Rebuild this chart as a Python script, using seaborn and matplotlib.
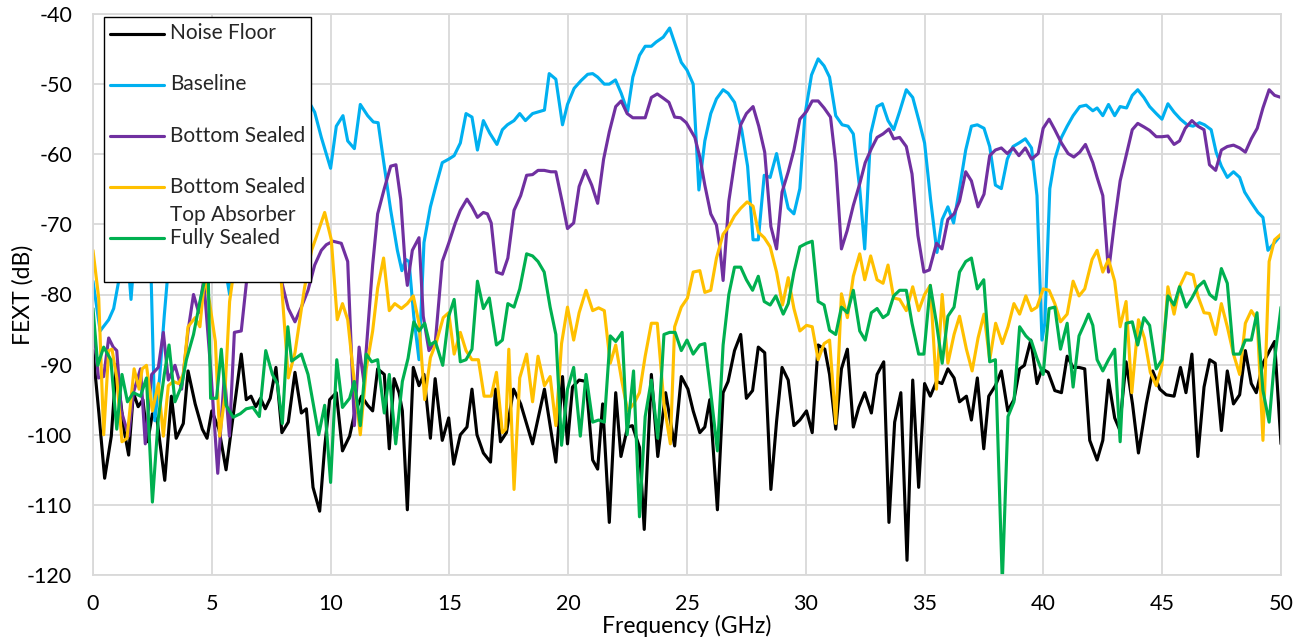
import numpy as np
import pandas as pd
import matplotlib
matplotlib.use("Agg")
import matplotlib.pyplot as plt
import seaborn as sns

# ---------------- data (frequency GHz, FEXT dB) ----------------
noise_floor = [
    (0.0, -88), (0.25, -97), (0.49, -106.2), (0.77, -100.2), (0.98, -90.0), (1.3, -99.2), (1.5, -102.9),
    (1.7, -94), (1.9, -96), (2.1, -95), (2.3, -101), (2.5, -97), (2.7, -98), (3.02, -106.5), (3.3, -94.5),
    (3.5, -100.5), (3.8, -98.4), (4.0, -90.9), (4.3, -95.6), (4.6, -99.2), (4.8, -100.5), (5.0, -96.6),
    (5.3, -99.2), (5.6, -105), (6.24, -88.5), (6.45, -95), (6.65, -94.5), (6.85, -96), (7.05, -94.8),
    (7.25, -96.3), (7.46, -94.8), (7.7, -90.4), (7.95, -99.7), (8.22, -98.2), (8.5, -91.1), (8.77, -96.9),
    (8.98, -96.3), (9.26, -107.5), (9.54, -110.9), (9.75, -101.8), (9.96, -95.0), (10.24, -94), (10.5, -102.3),
    (10.8, -100.2), (11.0, -97.1), (11.3, -94.5), (11.56, -95.8), (11.77, -96.6), (11.98, -90.6), (12.26, -91.4),
    (12.47, -102), (12.67, -92), (12.88, -94), (13.02, -96.6), (13.23, -110.7), (13.48, -90.4), (13.72, -93),
    (13.93, -91.4), (14.2, -100.5), (14.4, -92), (14.7, -100.8), (14.97, -97.6), (15.18, -104.2), (15.46, -100),
    (15.74, -98.9), (15.95, -93.5), (16.16, -100), (16.43, -102.6), (16.73, -103.9), (16.94, -93.5), (17.15, -101),
    (17.4, -99.7), (17.7, -93.5), (18.0, -95.6), (18.5, -101.3), (19.0, -93.5), (19.48, -103.9), (19.76, -91.7),
    (19.97, -101.3), (20.18, -93.2), (20.46, -92.2), (20.75, -92.4), (21.03, -103.6), (21.24, -104.9),
    (21.45, -95.6), (21.73, -112.5), (22.0, -94), (22.22, -103.1), (22.5, -98.9), (22.7, -98.7), (23.0, -101.8),
    (23.2, -113.5), (23.5, -91.4), (23.77, -103.1), (24.1, -94), (24.48, -101.6), (24.76, -91.7), (25.04, -93.5),
    (25.26, -96.6), (25.54, -99.7), (25.75, -98.9), (25.96, -95), (26.28, -110.7), (26.52, -94), (26.73, -92.4),
    (27.0, -88), (27.26, -85.7), (27.5, -94.8), (27.76, -93.7), (28.0, -87.5), (28.27, -88.3), (28.53, -107.8),
    (28.77, -98.1), (29.0, -90.4), (29.26, -92.2), (29.5, -98.7), (29.75, -97.9), (30.03, -96.6), (30.27, -99.7),
    (30.52, -87.2), (30.8, -87.8), (31.0, -91.4), (31.26, -99.2), (31.5, -90.6), (31.75, -87.8), (32.0, -98.9),
    (32.23, -96.1), (32.48, -94), (32.76, -96.9), (33.0, -91.4), (33.28, -89.6), (33.5, -112.5), (33.74, -98.2),
    (34.0, -94), (34.26, -117.9), (34.5, -92.2), (34.75, -107.5), (35.0, -92.7), (35.24, -94.5), (35.5, -92.4),
    (35.73, -92.7), (35.98, -90.6), (36.24, -91.9), (36.47, -95.3), (36.76, -94.5), (36.97, -97.9), (37.22, -91.9),
    (37.49, -102), (37.7, -94.5), (37.98, -93), (38.23, -90.9), (38.5, -96.6), (38.76, -95), (39.0, -90.6),
    (39.2, -90.1), (39.47, -86.5), (39.73, -92.7), (39.94, -90.6), (40.2, -91.1), (40.48, -93.7), (40.76, -94),
    (41.0, -88.8), (41.25, -90.4), (41.5, -90.4), (41.74, -90.6), (41.95, -100.8), (42.26, -103.6), (42.5, -100.8),
    (42.74, -92.2), (43.0, -97.6), (43.2, -99.2), (43.48, -89.6), (43.75, -95.6), (44.0, -102.6), (44.33, -95.6),
    (44.6, -90.9), (44.9, -93.5), (45.17, -94.3), (45.5, -94.5), (45.77, -90.4), (46.0, -94), (46.25, -88.5),
    (46.5, -103.1), (46.76, -93.2), (47.0, -89.3), (47.23, -89.8), (47.49, -99.4), (47.74, -90.9), (48.0, -95.6),
    (48.26, -94.3), (48.5, -88), (48.75, -92.7), (48.96, -94), (49.24, -89.8), (49.52, -88), (49.73, -86.7),
    (50.0, -101.3),
]

baseline = [
    (0.0, -78.1), (0.3, -85.2), (0.66, -83.6), (0.87, -82), (1.08, -78.1), (1.22, -75.8), (1.4, -72), (1.6, -80.7),
    (1.75, -74), (2.0, -66), (2.3, -72), (2.45, -78), (2.6, -98), (2.8, -92), (3.0, -83), (3.2, -75), (3.6, -68),
    (4.2, -66), (4.8, -70), (5.3, -72), (5.55, -76), (5.75, -80), (6.0, -73), (6.5, -64), (7.0, -60), (7.5, -62),
    (8.0, -57), (8.5, -55), (9.0, -52), (9.33, -54), (9.61, -57.6), (10.0, -62), (10.24, -56), (10.52, -54.5),
    (10.72, -58.1), (11.0, -59.2), (11.25, -52.9), (11.56, -54.5), (11.8, -55.4), (12.0, -55.5), (12.26, -61.7),
    (12.53, -68), (12.81, -73.7), (13.0, -76.6), (13.16, -75), (13.3, -75.3), (13.5, -83.1), (13.72, -89.3),
    (13.93, -72.6), (14.2, -67.5), (14.44, -64.4), (14.7, -61.2), (14.97, -60.7), (15.2, -60.2), (15.46, -58.4),
    (15.7, -54.2), (15.95, -54.7), (16.18, -59.4), (16.43, -55.2), (16.7, -57), (17.0, -58.6), (17.23, -56.5),
    (17.44, -55.8), (17.72, -55.2), (17.96, -54.2), (18.2, -55.2), (18.5, -54.2), (19.0, -53.7), (19.2, -48.5),
    (19.48, -49.3), (19.76, -55.8), (19.97, -52.9), (20.25, -50.6), (20.54, -49.5), (20.82, -48.6), (21.03, -48.5),
    (21.24, -49), (21.52, -50), (21.73, -50), (21.99, -49.4), (22.23, -51.3), (22.5, -53.9), (22.72, -49),
    (23.0, -45.9), (23.24, -44.6), (23.5, -44.6), (23.7, -44), (24.0, -43.3), (24.27, -42), (24.48, -44.1),
    (24.76, -46.9), (25.0, -48), (25.26, -50), (25.5, -65.1), (25.75, -58.1), (26.0, -54.2), (26.24, -52.1),
    (26.52, -50.8), (26.73, -51.3), (27.0, -52.6), (27.3, -56.5), (27.55, -61.7), (27.78, -72.2), (28.0, -72.2),
    (28.25, -63), (28.5, -63.3), (28.77, -59.9), (29.0, -63.8), (29.26, -67.7), (29.5, -68.5), (29.75, -64.9),
    (29.96, -54.5), (30.24, -48.7), (30.52, -46.4), (30.77, -47.4), (31.0, -49), (31.26, -54.5), (31.53, -55.8),
    (31.78, -56), (32.0, -57.1), (32.27, -64.9), (32.48, -73.5), (32.73, -57.1), (33.0, -53.2), (33.22, -52.8),
    (33.46, -55.2), (33.7, -56.5), (33.95, -53.9), (34.23, -50.8), (34.5, -51.9), (34.76, -55.2), (35.0, -58.4),
    (35.25, -66.4), (35.52, -74), (35.74, -69.3), (35.98, -67.5), (36.22, -69.8), (36.47, -64.9), (36.73, -59.4),
    (36.97, -56), (37.22, -55.8), (37.5, -56.3), (37.74, -58.9), (37.98, -64.4), (38.23, -64.9), (38.48, -60.7),
    (38.72, -58.9), (38.97, -58.4), (39.24, -57.8), (39.5, -59.1), (39.73, -65.9), (39.94, -86.5), (40.06, -84.1),
    (40.27, -64.9), (40.48, -60.7), (40.76, -57.6), (41.0, -56), (41.25, -54.5), (41.53, -53.2), (41.8, -53),
    (42.08, -53.8), (42.26, -53.4), (42.5, -54.5), (42.74, -52.9), (43.0, -54.5), (43.23, -53.2), (43.5, -53.4),
    (43.74, -51.6), (43.97, -50.8), (44.23, -51.9), (44.47, -53.2), (44.75, -54.2), (44.99, -55), (45.24, -52.8),
    (45.5, -54), (45.77, -55), (46.05, -55.8), (46.3, -56), (46.57, -55.5), (46.78, -55.8), (47.06, -56.5),
    (47.27, -59.7), (47.49, -61.7), (47.74, -63.3), (48.0, -62.5), (48.26, -63.3), (48.47, -65.4), (48.75, -66.9),
    (49.03, -68.3), (49.24, -69), (49.45, -73.7), (49.73, -72.6), (50.0, -71.5),
]

bottom_sealed = [
    (0.0, -83.6), (0.23, -91.9), (0.45, -91.7), (0.66, -86.2), (0.85, -87.5), (1.0, -88), (1.19, -96.6),
    (1.5, -100.2), (1.7, -94), (2.0, -90.6), (2.2, -101.3), (2.47, -91.4), (2.75, -90.4), (2.96, -85.4),
    (3.17, -92.2), (3.45, -90.1), (3.73, -93.5), (4.0, -85.2), (4.23, -80), (4.45, -82.6), (4.66, -77.9),
    (4.97, -91.4), (5.25, -105.5), (5.53, -91.4), (5.74, -100.2), (5.95, -85.4), (6.24, -85.2), (6.52, -76.3),
    (7.0, -68), (7.5, -72), (8.0, -79), (8.22, -82), (8.5, -83.9), (8.77, -81.8), (9.05, -79.4), (9.33, -75.8),
    (9.61, -73.7), (9.82, -72.9), (10.1, -72.4), (10.45, -72.7), (10.72, -75.3), (11.0, -98.7), (11.2, -87.5),
    (11.4, -92.4), (11.56, -85.2), (11.77, -75.8), (11.98, -68.5), (12.26, -64.9), (12.53, -61.7), (12.75, -61.5),
    (12.95, -66.4), (13.16, -76.8), (13.23, -78.7), (13.44, -73.7), (13.72, -71.9), (13.9, -83.1), (14.14, -88),
    (14.41, -86.7), (14.7, -75.3), (14.97, -72.7), (15.25, -69.8), (15.46, -68), (15.74, -66.4), (15.95, -67.5),
    (16.18, -69), (16.43, -68.3), (16.6, -68.5), (16.76, -69.8), (16.98, -76.8), (17.23, -77.1), (17.46, -74.8),
    (17.72, -68), (18.0, -65.9), (18.25, -63), (18.5, -62.9), (18.73, -62.3), (18.99, -62.3), (19.27, -62.5),
    (19.48, -62.5), (19.76, -67), (19.97, -70.6), (20.23, -69.8), (20.46, -64.6), (20.72, -62.3), (20.99, -64.4),
    (21.24, -67), (21.49, -60.7), (21.73, -56.8), (22.0, -53.2), (22.23, -52.4), (22.48, -54.2), (22.72, -54.8),
    (23.0, -54.8), (23.24, -54.8), (23.5, -51.9), (23.75, -51.4), (24.0, -52), (24.24, -52.6), (24.48, -54.7),
    (24.73, -54.8), (24.97, -55.5), (25.33, -57.6), (25.54, -60.4), (25.75, -64.4), (26.0, -68.5), (26.24, -70.1),
    (26.38, -73.2), (26.52, -78), (26.76, -66.7), (27.0, -61.2), (27.26, -55.8), (27.5, -54.2), (27.78, -53.2),
    (28.02, -56), (28.27, -59.7), (28.53, -70.3), (28.77, -73.5), (29.0, -65.4), (29.26, -62.5), (29.5, -59.4),
    (29.75, -55), (30.03, -53.9), (30.27, -52.4), (30.52, -52.4), (30.77, -53.4), (31.04, -54.7), (31.26, -61.2),
    (31.5, -73.5), (31.74, -70.9), (32.0, -67.3), (32.27, -64.2), (32.5, -61.2), (32.76, -59.2), (33.0, -57.6),
    (33.25, -57.1), (33.5, -56.4), (33.7, -57.8), (33.95, -57.6), (34.23, -58.9), (34.47, -62.8), (34.72, -71.6),
    (34.97, -76.8), (35.2, -76.5), (35.5, -72.7), (35.73, -73.5), (35.98, -69.3), (36.24, -68.5), (36.47, -66.7),
    (36.73, -62.5), (36.97, -63.8), (37.25, -67.5), (37.5, -65.7), (37.74, -60.2), (37.98, -59.4), (38.23, -59.1),
    (38.48, -59.9), (38.72, -59.1), (38.97, -60.2), (39.24, -59.1), (39.5, -60.7), (39.78, -59.9), (39.99, -56.3),
    (40.24, -55), (40.48, -56.5), (40.76, -58.4), (41.04, -59.9), (41.28, -60.4), (41.53, -59.7), (41.77, -58.6),
    (42.08, -61.2), (42.26, -63.3), (42.5, -65.9), (42.74, -76.8), (43.0, -69.5), (43.23, -63.8), (43.48, -60.2),
    (43.74, -56.5), (43.97, -55.6), (44.23, -56.1), (44.47, -56.6), (44.75, -57.5), (44.99, -57.5), (45.24, -57.4),
    (45.5, -58.6), (45.73, -58.1), (45.97, -56.3), (46.25, -55.2), (46.5, -56), (46.76, -56.5), (46.99, -61.5),
    (47.25, -62.3), (47.49, -59.4), (47.74, -58.9), (48.0, -58.7), (48.26, -59.1), (48.5, -59.7), (48.75, -57.8),
    (49.0, -56.3), (49.24, -53.4), (49.5, -50.8), (49.73, -51.6), (50.0, -51.9),
]

bottom_sealed_top_absorber = [
    (0.0, -73.7), (0.24, -80.5), (0.45, -100), (0.66, -88), (0.8, -87.8), (1.0, -91.9), (1.22, -101), (1.43, -100.5),
    (1.73, -90.6), (1.94, -93.5), (2.07, -90.6), (2.25, -90.1), (2.5, -96.6), (2.75, -92.7), (2.96, -100.2),
    (3.17, -93), (3.38, -92.4), (3.6, -92.7), (3.8, -91.4), (4.0, -84.6), (4.3, -83.3), (4.5, -84.6), (4.7, -77.4),
    (4.9, -81), (5.15, -86.7), (5.33, -100.2), (5.54, -94.8), (5.75, -81), (5.96, -75.8), (6.5, -68), (7.0, -66),
    (7.5, -70), (7.9, -77), (8.22, -91.9), (8.5, -88.3), (8.9, -79.1), (9.2, -73.7), (9.47, -71.1), (9.75, -68.3),
    (10.03, -72.2), (10.28, -83.6), (10.5, -81.3), (10.72, -83.6), (10.98, -91.9), (11.25, -100), (11.5, -90.6),
    (11.77, -85.2), (11.98, -79.1), (12.23, -74.8), (12.47, -82.3), (12.7, -81.3), (12.98, -82), (13.23, -81.3),
    (13.48, -80.2), (13.72, -84.1), (13.96, -95), (14.2, -89), (14.46, -86.7), (14.74, -83.3), (14.97, -82.6),
    (15.2, -88.5), (15.46, -85.4), (15.7, -88), (15.95, -89.3), (16.22, -89.3), (16.46, -94.5), (16.76, -94.5),
    (16.98, -91.1), (17.23, -99.7), (17.37, -99.2), (17.5, -87.8), (17.72, -107.8), (17.96, -91.9), (18.25, -88.5),
    (18.5, -95.3), (18.73, -88.8), (19.0, -93), (19.24, -91.7), (19.48, -98.7), (19.72, -87), (19.97, -81.8),
    (20.23, -86.5), (20.46, -82.6), (20.75, -79.4), (21.03, -82.3), (21.28, -81.9), (21.52, -82.3), (21.77, -89.8),
    (22.0, -87.2), (22.25, -92.2), (22.5, -96.6), (22.76, -95.6), (23.0, -94), (23.24, -88.8), (23.5, -84.1),
    (23.75, -84.1), (24.03, -95.6), (24.3, -101.3), (24.48, -84.6), (24.76, -81.8), (25.02, -80.5), (25.26, -76.8),
    (25.54, -76.6), (25.75, -79.7), (26.0, -79.4), (26.24, -74.8), (26.52, -71.4), (26.76, -70.3), (27.0, -68.8),
    (27.26, -67.7), (27.53, -66.8), (27.78, -67.4), (28.0, -71.1), (28.25, -71.9), (28.5, -73.2), (28.77, -76.8),
    (29.02, -81.5), (29.26, -77.6), (29.5, -82), (29.75, -85.2), (30.03, -84.4), (30.27, -84.6), (30.52, -89.3),
    (30.77, -87), (31.0, -86.5), (31.26, -98.4), (31.5, -79.9), (31.75, -83.3), (32.0, -77.4), (32.27, -74.2),
    (32.48, -77.9), (32.73, -74.5), (33.0, -77.9), (33.25, -78.4), (33.46, -75.8), (33.7, -80.5), (33.95, -80.7),
    (34.23, -82.3), (34.5, -78.9), (34.75, -82.3), (35.0, -80), (35.24, -78.7), (35.5, -93.5), (35.74, -80),
    (35.98, -89.8), (36.24, -85.7), (36.47, -83.1), (36.76, -87.8), (37.0, -90.9), (37.25, -86.2), (37.5, -82.8),
    (37.74, -89.3), (37.99, -84.1), (38.27, -87), (38.51, -84.6), (38.76, -81.3), (39.0, -82.8), (39.26, -80.2),
    (39.5, -82.3), (39.73, -81.8), (39.99, -79.2), (40.24, -79.4), (40.48, -81.3), (40.72, -83.9), (41.0, -82.8),
    (41.25, -78.1), (41.5, -80.2), (41.74, -79.2), (42.05, -75), (42.26, -73.7), (42.5, -76.8), (42.74, -75),
    (43.0, -78.1), (43.23, -84.6), (43.48, -81), (43.72, -94), (44.0, -83.6), (44.25, -86.2), (44.5, -91.1),
    (44.75, -93), (44.99, -90.1), (45.24, -78.9), (45.5, -82.8), (45.73, -78.9), (46.01, -76.9), (46.3, -77.2),
    (46.5, -80.2), (46.76, -82.6), (46.99, -82.7), (47.25, -85.7), (47.49, -81.3), (47.74, -84.6), (48.0, -88.5),
    (48.26, -91.4), (48.5, -84.1), (48.75, -82.3), (49.0, -83.6), (49.24, -100.8), (49.5, -75.3), (49.73, -72.2),
    (50.0, -71.4),
]

fully_sealed = [
    (0.0, -82), (0.2, -90.1), (0.45, -87.5), (0.75, -89.3), (1.0, -99.2), (1.22, -91.4), (1.45, -95.3), (1.7, -94),
    (2.0, -94.5), (2.25, -91.9), (2.5, -109.6), (2.75, -97.6), (3.0, -91.4), (3.2, -87.2), (3.45, -95.3),
    (3.73, -93), (3.93, -89.3), (4.23, -85.7), (4.5, -81), (4.7, -77.9), (4.85, -77.1), (4.95, -94.8), (5.2, -94.8),
    (5.4, -87.8), (5.6, -95.8), (5.9, -97.5), (6.2, -97), (6.45, -96.3), (6.73, -96.1), (7.0, -97.4), (7.27, -88),
    (7.55, -91.4), (7.76, -92.7), (7.97, -98.4), (8.2, -84.6), (8.36, -89.5), (8.77, -88.5), (9.05, -91.4),
    (9.5, -100), (9.75, -95.8), (10.0, -106.8), (10.26, -89.3), (10.5, -96.1), (10.8, -94.8), (11.0, -92.4),
    (11.25, -98.7), (11.5, -88.5), (11.73, -89.6), (11.98, -89.3), (12.26, -96.9), (12.47, -91.4), (12.74, -101.3),
    (13.02, -92.4), (13.26, -89.1), (13.5, -83.9), (13.72, -85.2), (13.96, -84.1), (14.18, -87.2), (14.41, -86.7),
    (14.72, -90.1), (14.97, -83.1), (15.2, -80.7), (15.46, -89.6), (15.7, -89.3), (15.95, -87.8), (16.18, -78.1),
    (16.43, -82), (16.68, -80.5), (16.98, -87.2), (17.23, -86.5), (17.46, -81.3), (17.72, -81.8), (17.96, -79.2),
    (18.25, -74.2), (18.5, -74.5), (18.73, -75.3), (18.99, -76.8), (19.24, -81.8), (19.48, -85.7), (19.72, -101.5),
    (19.97, -93.5), (20.23, -90.4), (20.51, -100.2), (20.75, -91.4), (21.03, -98.2), (21.28, -97.9), (21.52, -98.2),
    (21.77, -85.9), (22.0, -86.7), (22.27, -85.4), (22.48, -100), (22.75, -90.9), (23.0, -111.7), (23.24, -97.4),
    (23.5, -92.2), (23.77, -100.5), (24.03, -85.7), (24.27, -85.4), (24.5, -85.4), (24.76, -88), (25.0, -86.5),
    (25.26, -88.5), (25.54, -87.2), (25.75, -87), (26.0, -94), (26.28, -102.3), (26.52, -87.2), (26.76, -80),
    (27.0, -76.1), (27.26, -76.1), (27.5, -77.9), (27.76, -79.4), (28.0, -77.4), (28.25, -81), (28.5, -81.5),
    (28.74, -80.2), (29.05, -82.8), (29.26, -81.3), (29.5, -76.8), (29.75, -73.2), (30.03, -72.7), (30.27, -72.4),
    (30.52, -81), (30.77, -81.5), (31.0, -85.1), (31.26, -85.7), (31.5, -81.8), (31.75, -82.6), (32.0, -79.4),
    (32.27, -85.2), (32.5, -86.5), (32.76, -82.6), (33.0, -82), (33.25, -83.3), (33.46, -82.8), (33.7, -80.2),
    (33.95, -79.4), (34.23, -79.4), (34.47, -84.1), (34.75, -88.5), (34.97, -88.5), (35.24, -78.7), (35.5, -84.1),
    (35.74, -89.8), (35.98, -83.1), (36.24, -81.8), (36.47, -76.8), (36.73, -75.3), (36.97, -74.8), (37.22, -79.2),
    (37.49, -77.9), (37.74, -89.6), (37.98, -89.3), (38.27, -121), (38.51, -97.4), (38.76, -95.3), (39.0, -84.6),
    (39.26, -85.9), (39.5, -86.7), (39.73, -89.1), (39.99, -91.4), (40.24, -82), (40.48, -81.8), (40.72, -87.8),
    (41.0, -84.1), (41.25, -93.2), (41.5, -85.9), (41.74, -84.1), (41.9, -82.8), (42.08, -84.4), (42.26, -89.3),
    (42.5, -90.9), (42.74, -89.3), (43.0, -87.8), (43.23, -101), (43.48, -84.1), (43.74, -83.9), (43.97, -87.2),
    (44.23, -83.3), (44.47, -84.4), (44.75, -90.6), (44.99, -89.3), (45.24, -80.2), (45.5, -81.5), (45.73, -78.9),
    (46.01, -81.8), (46.25, -80.5), (46.5, -78.9), (46.76, -78.1), (47.0, -80), (47.25, -80.7), (47.49, -76.3),
    (47.74, -78.4), (48.0, -88.5), (48.26, -88.5), (48.5, -86.5), (48.75, -86.5), (48.99, -82.6), (49.24, -93.7),
    (49.5, -98.2), (49.73, -89.3), (50.0, -81.8),
]

series_names = ["Noise Floor", "Baseline", "Bottom Sealed", "Bottom Sealed\nTop Absorber", "Fully Sealed"]
series_data = [noise_floor, baseline, bottom_sealed, bottom_sealed_top_absorber, fully_sealed]
series_colors = ["#000000", "#00B0F0", "#7030A0", "#FFC000", "#00B050"]
x_ticks = [0, 5, 10, 15, 20, 25, 30, 35, 40, 45, 50]
y_ticks = [-120, -110, -100, -90, -80, -70, -60, -50, -40]
x_label = "Frequency (GHz)"
y_label = "FEXT (dB)"

# ---------------- style ----------------
sns.set_theme(style="white")
plt.rcParams["font.family"] = ["Lato", "DejaVu Sans"]
plt.rcParams["axes.unicode_minus"] = False

W, H, DPI = 1309, 643, 100
fig = plt.figure(figsize=(W / DPI, H / DPI), dpi=DPI)
ax = fig.add_axes([93 / W, 1 - 575 / H, 1188 / W, 561 / H])

for name, data, color in zip(series_names, series_data, series_colors):
    df = pd.DataFrame(data, columns=["freq", "fext"])
    sns.lineplot(data=df, x="freq", y="fext", color=color, linewidth=2.25,
                 estimator=None, sort=False, legend=False, ax=ax)

ax.set_xlim(x_ticks[0], x_ticks[-1])
ax.set_ylim(y_ticks[0], y_ticks[-1])
ax.set_xticks(x_ticks)
ax.set_yticks(y_ticks)
ax.grid(True, color="#D9D9D9", linewidth=1.3)
ax.set_axisbelow(True)
for sp in ax.spines.values():
    sp.set_color("#D9D9D9")
    sp.set_linewidth(1.3)
TICK_FS = 15.5
LABEL_FS = 16.5
ax.tick_params(axis="both", length=0, labelsize=TICK_FS, colors="black")
ax.tick_params(axis="y", pad=15)
ax.tick_params(axis="x", pad=14)

ax.set_xlabel(x_label, fontsize=LABEL_FS, color="black")
ax.set_ylabel(y_label, fontsize=LABEL_FS, color="black")
ax.xaxis.set_label_coords(0.5, -0.071)
ax.yaxis.set_label_coords(-0.05, 0.5)

# ---------------- legend (Excel-like: every entry occupies two text lines) ----------------
FS = 15
LINESPACING = 1.50
leg_labels = [n if "\n" in n else n + "\n " for n in series_names]
leg = ax.legend(ax.lines[:len(series_names)], leg_labels, loc="upper left",
                bbox_to_anchor=(11 / 1188, (575 - 17) / 561), borderaxespad=0,
                frameon=True, fancybox=False, framealpha=1, edgecolor="black",
                fontsize=FS, labelspacing=0.15, handlelength=2.6, handletextpad=0.25,
                borderpad=0.3)
leg.get_frame().set_linewidth(1.0)
for t in leg.get_texts():
    t.set_linespacing(LINESPACING)

fig.canvas.draw()
renderer = fig.canvas.get_renderer()
prop = leg.get_texts()[0].get_fontproperties()
_, lp_h, lp_d = renderer.get_text_width_height_descent("lp", prop, ismath=False)
k = 72.0 / fig.dpi
lp_asc = (lp_h - lp_d) * k
lp_dp = lp_d * k
pitch = lp_asc * LINESPACING
offset = 0.5 * pitch + 0.5 * lp_dp + 0.01 * FS
for h in leg.legend_handles:
    h.set_ydata(np.asarray(h.get_ydata(), dtype=float) + offset)

fig.savefig("out.png", dpi=DPI)
